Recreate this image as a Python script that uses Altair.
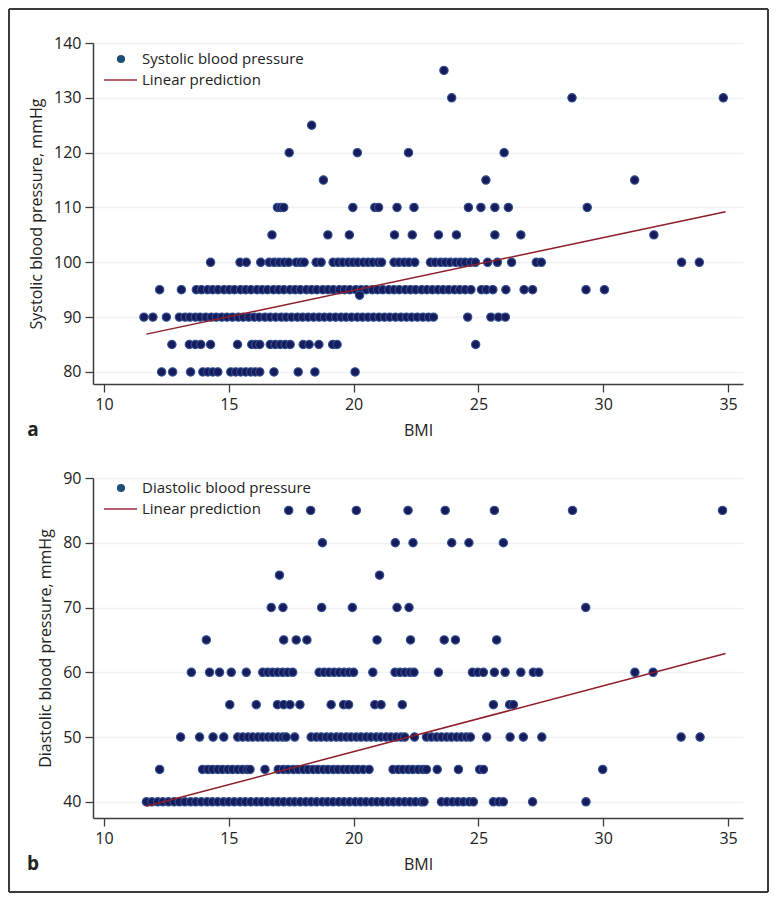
import altair as alt
import pandas as pd

FONT = "Open Sans"

# ---------------- Panel a: systolic blood pressure vs BMI ----------------
sys_135 = [23.62]
sys_130 = [23.93, 28.75, 34.81]
sys_125 = [18.32]
sys_120 = [17.42, 20.15, 22.20, 26.03]
sys_115 = [18.79, 25.30, 31.26]
sys_110 = [16.95, 17.08, 17.20, 19.97, 20.85, 21.00, 21.74, 22.42, 24.60, 25.10, 25.66, 26.20, 29.36]
sys_105 = [16.73, 18.97, 19.83, 21.64, 22.35, 23.40, 24.12, 25.66, 26.70, 32.03]
sys_100 = [14.27, 15.45, 15.70, 16.28, 16.62, 16.82, 17.02, 17.22, 17.40, 17.70, 17.88, 18.02,
           18.50, 18.70, 19.18, 19.38, 19.57, 19.79, 19.98, 20.17, 20.39, 20.58, 20.77, 20.98,
           21.12, 21.62, 21.82, 22.03, 22.22, 22.45, 23.08, 23.27, 23.49, 23.68, 23.87, 24.09,
           24.28, 24.47, 24.69, 24.88, 25.37, 25.76, 26.33, 27.32, 27.52, 33.14, 33.85]
sys_95 = [12.23, 13.10, 13.70, 13.91, 14.15, 14.36, 14.57, 14.81, 15.02, 15.23, 15.47, 15.68,
          15.89, 16.13, 16.34, 16.55, 16.79, 17.00, 17.21, 17.45, 17.66, 17.87, 18.11, 18.32,
          18.53, 18.77, 18.98, 19.19, 19.43, 19.64, 19.85, 20.09, 20.30, 20.51, 20.75, 20.96,
          21.17, 21.41, 21.62, 21.83, 22.07, 22.28, 22.49, 22.73, 22.94, 23.16, 23.38, 23.59,
          23.81, 24.04, 24.25, 24.47, 24.70, 25.12, 25.32, 25.58, 26.10, 26.83, 27.17, 29.31, 30.05]
sys_94 = [20.24]
sys_90 = [11.60, 11.96, 12.50, 13.02, 13.25, 13.44, 13.66, 13.85, 14.08, 14.30, 14.50, 14.72,
          14.93, 15.15, 15.38, 15.58, 15.80, 16.02, 16.22, 16.45, 16.66, 16.88, 17.10, 17.30,
          17.52, 17.75, 17.96, 18.18, 18.40, 18.62, 18.83, 19.05, 19.28, 19.50, 19.70, 19.92,
          20.15, 20.36, 20.58, 20.80, 21.02, 21.24, 21.45, 21.68, 21.90, 22.12, 22.33, 22.55,
          22.78, 23.00, 23.20, 24.57, 25.50, 25.80, 26.08]
sys_85 = [12.72, 13.42, 13.66, 13.88, 14.27, 15.35, 15.92, 16.08, 16.24, 16.66, 16.86, 17.06,
          17.26, 17.46, 17.98, 18.22, 18.61, 19.16, 19.34, 24.89]
sys_80 = [12.31, 12.75, 13.47, 13.96, 14.16, 14.36, 14.56, 15.08, 15.28, 15.48, 15.68, 15.88,
          16.06, 16.24, 16.81, 17.78, 18.45, 20.06]

sys_levels = [135, 130, 125, 120, 115, 110, 105, 100, 95, 94, 90, 85, 80]
sys_rows = [sys_135, sys_130, sys_125, sys_120, sys_115, sys_110, sys_105, sys_100,
            sys_95, sys_94, sys_90, sys_85, sys_80]

# linear prediction (read at the ends of the drawn fit line)
sys_fit_bmi = [11.70, 34.90]
sys_fit_bp = [86.9, 109.2]

# ---------------- Panel b: diastolic blood pressure vs BMI ----------------
dia_85 = [17.40, 18.28, 20.11, 22.18, 23.67, 25.64, 28.77, 34.78]
dia_80 = [18.75, 21.67, 22.38, 23.93, 24.62, 26.00]
dia_75 = [17.03, 21.04]
dia_70 = [16.70, 17.17, 18.72, 19.95, 21.74, 22.22, 29.30]
dia_65 = [14.10, 17.20, 17.70, 18.13, 20.94, 22.28, 23.63, 24.08, 25.73]
dia_60 = [13.50, 14.23, 14.63, 15.10, 15.70, 16.36, 16.56, 16.76, 16.96, 17.16, 17.36, 17.56,
          18.62, 18.82, 19.02, 19.22, 19.42, 19.62, 19.82, 20.00, 20.77, 21.66, 21.86, 22.06,
          22.26, 22.42, 23.40, 24.76, 24.98, 25.20, 25.64, 26.07, 26.70, 27.20, 27.42, 31.27, 32.00]
dia_55 = [15.04, 16.10, 16.95, 17.20, 17.45, 17.85, 19.10, 19.60, 19.80, 20.85, 21.10, 21.95,
          25.60, 26.25, 26.40]
dia_50 = [13.07, 13.83, 14.37, 14.80, 15.36, 15.56, 15.77, 15.96, 16.17, 16.36, 16.57, 16.76,
          16.97, 17.16, 17.30, 17.64, 18.30, 18.51, 18.70, 18.91, 19.10, 19.31, 19.50, 19.71,
          19.90, 20.11, 20.30, 20.51, 20.70, 20.91, 21.10, 21.31, 21.50, 21.71, 21.90, 22.05,
          22.44, 22.92, 23.12, 23.33, 23.52, 23.73, 23.92, 24.13, 24.32, 24.52, 24.68, 25.33,
          26.27, 26.80, 27.54, 33.12, 33.88]
dia_45 = [12.23, 13.95, 14.16, 14.35, 14.56, 14.75, 14.96, 15.15, 15.36, 15.55, 15.74, 15.85,
          16.45, 16.98, 17.19, 17.38, 17.59, 17.78, 17.99, 18.18, 18.39, 18.58, 18.79, 18.98,
          19.19, 19.38, 19.59, 19.78, 19.99, 20.18, 20.39, 20.62, 21.58, 21.79, 21.98, 22.19,
          22.38, 22.59, 22.78, 22.92, 23.35, 24.20, 25.05, 25.20, 29.98]
dia_40 = [11.70, 11.92, 12.15, 12.36, 12.58, 12.81, 13.02, 13.24, 13.47, 13.68, 13.90, 14.13,
          14.34, 14.56, 14.79, 15.00, 15.22, 15.45, 15.66, 15.88, 16.11, 16.32, 16.54, 16.77,
          16.98, 17.20, 17.43, 17.64, 17.86, 18.09, 18.30, 18.52, 18.75, 18.96, 19.18, 19.41,
          19.62, 19.84, 20.07, 20.28, 20.50, 20.73, 20.94, 21.16, 21.39, 21.60, 21.82, 22.05,
          22.26, 22.48, 22.71, 22.82, 23.52, 23.74, 23.97, 24.18, 24.40, 24.63, 24.80, 25.60,
          25.82, 26.00, 27.17, 29.31]

dia_levels = [85, 80, 75, 70, 65, 60, 55, 50, 45, 40]
dia_rows = [dia_85, dia_80, dia_75, dia_70, dia_65, dia_60, dia_55, dia_50, dia_45, dia_40]

dia_fit_bmi = [11.70, 34.90]
dia_fit_bp = [39.3, 62.9]

# ---------------- axes / labels ----------------
x_ticks = [10, 15, 20, 25, 30, 35]
sys_ticks = [80, 90, 100, 110, 120, 130, 140]
dia_ticks = [40, 50, 60, 70, 80, 90]
x_title = "BMI"
sys_title = "Systolic blood pressure, mmHg"
dia_title = "Diastolic blood pressure, mmHg"
sys_legend = ["Systolic blood pressure", "Linear prediction"]
dia_legend = ["Diastolic blood pressure", "Linear prediction"]

PT_FILL = "#161b5c"
PT_STROKE = "#33508f"
LEG_DOT = "#1f4e79"
LEG_LINE = "#b5606f"
FIT_COLOR = "#8e1d2a"
TXT = "#222222"
FRAME = "#3a3a3a"


def to_frame(levels, rows):
    bmi, bp = [], []
    for lvl, lst in zip(levels, rows):
        for b in lst:
            bmi.append(b)
            bp.append(lvl)
    return pd.DataFrame({"bmi": bmi, "bp": bp})


def panel(df, fit_bmi, fit_bp, ydom, yticks, ytitle, legend, leg_y, letter, height, frame=False):
    x = alt.X("bmi:Q", scale=alt.Scale(domain=[9.56, 35.6], nice=False, zero=False),
              axis=alt.Axis(values=x_ticks, title=x_title, grid=False, format="d", labelFlush=False))
    y = alt.Y("bp:Q", scale=alt.Scale(domain=ydom, nice=False, zero=False),
              axis=alt.Axis(values=yticks, title=ytitle, grid=True, format="d"))
    pts = alt.Chart(df).mark_circle(size=70, fill=PT_FILL, stroke=PT_STROKE, strokeWidth=1.1,
                                    opacity=1).encode(x=x, y=y)
    fit = alt.Chart(pd.DataFrame({"bmi": fit_bmi, "bp": fit_bp})).mark_line(
        color=FIT_COLOR, strokeWidth=1.5).encode(x="bmi:Q", y="bp:Q")

    l1 = pd.DataFrame({"label": [legend[0]]})
    l2 = pd.DataFrame({"label": [legend[1]]})
    leg_dot = alt.Chart(l1).mark_circle(size=66, color=LEG_DOT, opacity=1).encode(
        x=alt.value(28), y=alt.value(leg_y[0]))
    leg_t1 = alt.Chart(l1).mark_text(align="left", baseline="middle", font=FONT, fontSize=15,
                                     color=TXT).encode(x=alt.value(49), y=alt.value(leg_y[0]),
                                                       text="label:N")
    leg_line = alt.Chart(l2).mark_rule(color=LEG_LINE, strokeWidth=2).encode(
        x=alt.value(11), x2=alt.value(44), y=alt.value(leg_y[1]))
    leg_t2 = alt.Chart(l2).mark_text(align="left", baseline="middle", font=FONT, fontSize=15,
                                     color=TXT).encode(x=alt.value(49), y=alt.value(leg_y[1]),
                                                       text="label:N")
    let = alt.Chart(pd.DataFrame({"t": [letter]})).mark_text(
        font=FONT, fontSize=19, fontWeight="bold", align="center", baseline="middle",
        color=TXT).encode(x=alt.value(-60), y=alt.value(height + 46), text="t:N")

    layers = [pts, fit, leg_dot, leg_t1, leg_line, leg_t2, let]
    if frame:
        fdf = pd.DataFrame({"edge": ["frame"]})
        L, R, T, B = -84, 675, -34, 849
        layers += [
            alt.Chart(fdf).mark_rule(color=FRAME, strokeWidth=2).encode(
                x=alt.value(L), x2=alt.value(R), y=alt.value(T)),
            alt.Chart(fdf).mark_rule(color=FRAME, strokeWidth=2).encode(
                x=alt.value(L), x2=alt.value(R), y=alt.value(B)),
            alt.Chart(fdf).mark_rule(color=FRAME, strokeWidth=2).encode(
                x=alt.value(L), y=alt.value(T), y2=alt.value(B)),
            alt.Chart(fdf).mark_rule(color=FRAME, strokeWidth=2).encode(
                x=alt.value(R), y=alt.value(T), y2=alt.value(B)),
        ]
    return alt.layer(*layers).properties(width=650, height=height)


panel_a = panel(to_frame(sys_levels, sys_rows), sys_fit_bmi, sys_fit_bp, [77.8, 140], sys_ticks,
                sys_title, sys_legend, [16, 37], "a", 341, frame=True)
panel_b = panel(to_frame(dia_levels, dia_rows), dia_fit_bmi, dia_fit_bp, [37.5, 90], dia_ticks,
                dia_title, dia_legend, [10, 31], "b", 340)

chart = alt.vconcat(panel_a, panel_b, spacing=94, bounds="flush").properties(
    padding=0, background="white"
).configure_view(stroke=None).configure_axis(
    domainColor="#3c3c3c", domainWidth=1.5, tickColor="#3c3c3c", tickWidth=1.3, tickSize=8,
    labelFont=FONT, labelFontSize=16, labelColor=TXT, labelPadding=4,
    titleFont=FONT, titleFontSize=16, titleFontWeight="normal", titleColor=TXT,
    gridColor="#edf1f5", gridWidth=1.5
).configure_axisX(titlePadding=10).configure_axisY(titlePadding=9)

chart.save("out.html", embed_options={"renderer": "svg", "actions": False})
